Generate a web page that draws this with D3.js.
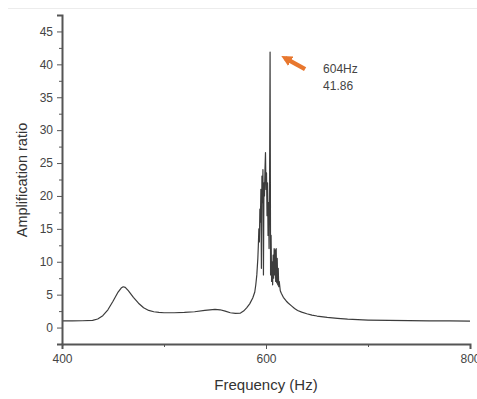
<!DOCTYPE html>
<html lang="en">
<head>
    <meta charset="UTF-8">
    <title>Amplification ratio vs frequency</title>
    <style>
        body { margin: 0; background: #fff; }
        svg text { font-family: "Liberation Sans", Arial, sans-serif; }
        .axis path, .axis line { stroke: #555; }
        .axis text { fill: #444; font-size: 12px; }
        .curve { fill: none; stroke: #3c3c3c; stroke-width: 1.2px; stroke-linejoin: round; }
    </style>
</head>
<body>
    <div id="chart"></div>
    <script src="https://d3js.org/d3.v7.min.js"></script>
    <script>
        // frequency (Hz) and amplification ratio
        const freq = [400, 410, 420, 430, 435, 440, 445, 450, 455, 458, 460, 462, 465, 470, 475, 480, 485, 490, 495, 500,
            510, 520, 530, 540, 545, 550, 555, 560, 565, 570, 575, 578, 581, 584, 587, 589, 590, 591,
            592, 592.5, 593, 593.5, 594, 594.5, 595, 595.5, 596, 596.5, 597, 597.5, 598, 598.5, 599, 599.5,
            600, 600.5, 601, 601.5, 602, 602.5, 603, 603.5, 604, 604.5, 605, 605.5, 606, 606.5, 607, 607.5,
            608, 608.5, 609, 609.5, 610, 610.5, 611, 611.5, 612, 612.5, 613, 614, 615, 617, 620, 622, 625,
            628, 631, 635, 640, 645, 650, 660, 670, 680, 690, 700, 720, 740, 760, 780, 800];
        const ratio = [1.02, 1.02, 1.03, 1.1, 1.3, 1.8, 2.7, 4.0, 5.4, 6.0, 6.2, 6.1, 5.6, 4.6, 3.7, 3.0, 2.6, 2.4, 2.3, 2.25,
            2.25, 2.3, 2.4, 2.6, 2.7, 2.75, 2.7, 2.5, 2.25, 2.15, 2.2, 2.5, 3.0, 3.6, 4.5, 5.4, 6.5, 8.0,
            10.5, 12.5, 15, 13, 18, 16, 21, 9, 23, 19, 24, 8, 22, 20, 24, 26.6,
            21, 23.5, 17, 22, 14, 19, 12, 22, 41.86, 8, 14, 7, 10, 6.5, 11, 7.5,
            12, 8, 11.8, 7, 12, 6.8, 10.5, 6.5, 9, 6.2, 7, 5.6, 5.2, 4.6, 4.0, 3.7, 3.3,
            2.9, 2.6, 2.35, 2.1, 1.9, 1.75, 1.55, 1.4, 1.28, 1.2, 1.14, 1.08, 1.04, 1.02, 1.0, 0.99];

        const yTicks = [0, 5, 10, 15, 20, 25, 30, 35, 40, 45];
        const yMinor = [-2.5, 2.5, 7.5, 12.5, 17.5, 22.5, 27.5, 32.5, 37.5, 42.5, 47.5];
        const xTicks = [400, 600, 800];
        const xMinor = [500, 700];

        const peak = { f: 604, v: 41.86 };

        const width = 477, height = 399;
        const svg = d3.select("#chart").append("svg")
            .attr("width", width)
            .attr("height", height);

        // faint frame edge at the top of the original figure
        svg.append("line")
            .attr("x1", 8).attr("x2", width).attr("y1", 8.5).attr("y2", 8.5)
            .attr("stroke", "#ececec");

        const x = d3.scaleLinear().domain([400, 800]).range([62, 470]);
        const y = d3.scaleLinear().domain([-2.5, 47.5]).range([344, 15]);

        const data = freq.map((f, i) => ({ f: f, v: ratio[i] }));

        svg.append("path")
            .datum(data)
            .attr("class", "curve")
            .attr("d", d3.line().x(d => x(d.f)).y(d => y(d.v)));

        // axes
        const gx = svg.append("g")
            .attr("class", "axis")
            .attr("transform", "translate(0,344)")
            .call(d3.axisBottom(x).tickValues(xTicks).tickSize(5).tickPadding(5).tickFormat(d3.format("d")));
        gx.select(".domain").attr("stroke-width", 2);
        svg.append("g")
            .attr("class", "axis")
            .attr("transform", "translate(0,344)")
            .call(d3.axisBottom(x).tickValues(xMinor).tickSize(3).tickFormat(""))
            .select(".domain").remove();

        const gy = svg.append("g")
            .attr("class", "axis")
            .attr("transform", "translate(62,0)")
            .call(d3.axisLeft(y).tickValues(yTicks).tickSize(5).tickPadding(4));
        gy.select(".domain").attr("stroke-width", 2);
        svg.append("g")
            .attr("class", "axis")
            .attr("transform", "translate(62,0)")
            .call(d3.axisLeft(y).tickValues(yMinor).tickSize(3).tickFormat(""))
            .select(".domain").remove();

        svg.append("text")
            .attr("x", 266).attr("y", 390)
            .attr("text-anchor", "middle")
            .attr("fill", "#333")
            .style("font-size", "15px")
            .text("Frequency (Hz)");

        svg.append("text")
            .attr("transform", "translate(27,180) rotate(-90)")
            .attr("text-anchor", "middle")
            .attr("fill", "#333")
            .style("font-size", "14.5px")
            .text("Amplification ratio");

        // peak annotation
        const px = x(peak.f), py = y(peak.v);
        const tip = [px + 11, py + 4], tail = [px + 35, py + 17];
        svg.append("defs").append("marker")
            .attr("id", "head")
            .attr("viewBox", "0 0 10 10")
            .attr("refX", 6).attr("refY", 5)
            .attr("markerWidth", 2.4).attr("markerHeight", 2.4)
            .attr("orient", "auto")
            .append("path")
            .attr("d", "M0,0L10,5L0,10z")
            .attr("fill", "#e8772e");
        svg.append("line")
            .attr("x1", tail[0]).attr("y1", tail[1])
            .attr("x2", tip[0] + 4).attr("y2", tip[1] + 2)
            .attr("stroke", "#e8772e")
            .attr("stroke-width", 4.5)
            .attr("marker-end", "url(#head)");

        svg.append("text")
            .attr("x", px + 53).attr("y", py + 21)
            .attr("fill", "#444")
            .style("font-size", "12px")
            .text(peak.f + "Hz");
        svg.append("text")
            .attr("x", px + 53).attr("y", py + 38)
            .attr("fill", "#444")
            .style("font-size", "12px")
            .text(peak.v);
    </script>
</body>
</html>
